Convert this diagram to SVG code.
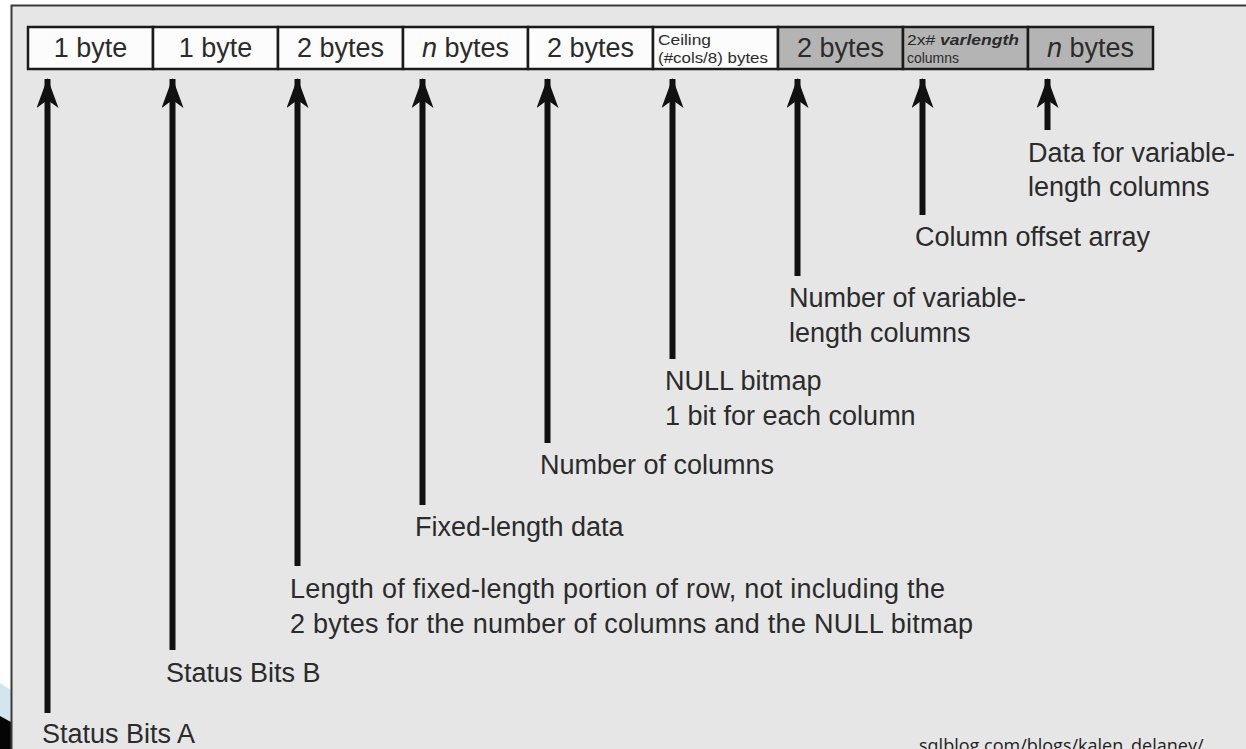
<svg xmlns="http://www.w3.org/2000/svg" width="1246" height="749" viewBox="0 0 1246 749">
<style>
.lbl{font-family:"Liberation Sans",Arial,sans-serif;font-size:27px;fill:#2b2b2b}
.cell{font-family:"Liberation Sans",Arial,sans-serif;font-size:27px;fill:#2b2b2b;text-anchor:middle}
.sm{font-family:"Liberation Sans",Arial,sans-serif;font-size:14.5px;fill:#2b2b2b}
.w{fill:#fcfcfc;stroke:#1a1a1a;stroke-width:2.5}
.g{fill:#b4b4b4;stroke:#1a1a1a;stroke-width:2.5}
.ln{stroke:#111;stroke-width:6;fill:none}
.wm{font-family:"Open Sans","Noto Sans",sans-serif;font-size:18px;fill:#222}
</style>
<defs>
<marker id="ah" viewBox="0 0 30 22" refX="29" refY="11" markerWidth="30" markerHeight="22" markerUnits="userSpaceOnUse" orient="auto">
<path d="M30,11 L0,0 L8,11 L0,22 Z" fill="#111"/>
</marker>
</defs>
<rect x="0" y="0" width="1246" height="749" fill="#ffffff"/>
<rect x="11" y="5" width="1235" height="744" fill="#e6e6e6"/>
<polygon points="0,683 11,690 11,722 0,716" fill="#d3e6ef"/>
<polygon points="0,716 11,722 11,749 0,749" fill="#050505"/>
<path d="M11.5,749 V5.5 H1246" fill="none" stroke="#3a3a3a" stroke-width="2"/>

<g id="row">
<g id="cell1"><rect class="w" x="28" y="27" width="125" height="42"/><text class="cell" x="90.5" y="57">1 byte</text></g>
<g id="cell2"><rect class="w" x="153" y="27" width="125" height="42"/><text class="cell" x="215.5" y="57">1 byte</text></g>
<g id="cell3"><rect class="w" x="278" y="27" width="125" height="42"/><text class="cell" x="340.5" y="57">2 bytes</text></g>
<g id="cell4"><rect class="w" x="403" y="27" width="125" height="42"/><text class="cell" x="465.5" y="57"><tspan font-style="italic">n</tspan> bytes</text></g>
<g id="cell5"><rect class="w" x="528" y="27" width="125" height="42"/><text class="cell" x="590.5" y="57">2 bytes</text></g>
<g id="cell6"><rect class="w" x="653" y="27" width="125" height="42"/><text class="sm" x="658" y="45" textLength="53" lengthAdjust="spacingAndGlyphs">Ceiling</text><text class="sm" x="658" y="63" textLength="110" lengthAdjust="spacingAndGlyphs">(#cols/8) bytes</text></g>
<g id="cell7"><rect class="g" x="778" y="27" width="125" height="42"/><text class="cell" x="840.5" y="57">2 bytes</text></g>
<g id="cell8"><rect class="g" x="903" y="27" width="125" height="42"/><text class="sm" x="907" y="45" textLength="112" lengthAdjust="spacingAndGlyphs">2x# <tspan font-style="italic" font-weight="bold">varlength</tspan></text><text class="sm" x="907" y="63" textLength="52" lengthAdjust="spacingAndGlyphs">columns</text></g>
<g id="cell9"><rect class="g" x="1028" y="27" width="125" height="42"/><text class="cell" x="1090.5" y="57"><tspan font-style="italic">n</tspan> bytes</text></g>
</g>

<g id="connectors">
<line class="ln" x1="47.5" y1="713" x2="47.5" y2="79" marker-end="url(#ah)"/>
<line class="ln" x1="172.5" y1="650" x2="172.5" y2="79" marker-end="url(#ah)"/>
<line class="ln" x1="297.5" y1="566" x2="297.5" y2="79" marker-end="url(#ah)"/>
<line class="ln" x1="422.5" y1="505" x2="422.5" y2="79" marker-end="url(#ah)"/>
<line class="ln" x1="547.5" y1="443" x2="547.5" y2="79" marker-end="url(#ah)"/>
<line class="ln" x1="672.5" y1="359" x2="672.5" y2="79" marker-end="url(#ah)"/>
<line class="ln" x1="797.5" y1="276" x2="797.5" y2="79" marker-end="url(#ah)"/>
<line class="ln" x1="922.5" y1="215" x2="922.5" y2="79" marker-end="url(#ah)"/>
<line class="ln" x1="1047.5" y1="130" x2="1047.5" y2="79" marker-end="url(#ah)"/>
</g>

<g id="label-data"><text class="lbl" x="1028" y="162">Data for variable-</text><text class="lbl" x="1028" y="196">length columns</text></g>
<g id="label-offset"><text class="lbl" x="915" y="246">Column offset array</text></g>
<g id="label-numvar"><text class="lbl" x="789" y="307">Number of variable-</text><text class="lbl" x="789" y="342">length columns</text></g>
<g id="label-null"><text class="lbl" x="665" y="390">NULL bitmap</text><text class="lbl" x="665" y="425">1 bit for each column</text></g>
<g id="label-numcols"><text class="lbl" x="540" y="474">Number of columns</text></g>
<g id="label-fixed"><text class="lbl" x="415" y="536">Fixed-length data</text></g>
<g id="label-length"><text class="lbl" x="290" y="598" textLength="655">Length of fixed-length portion of row, not including the</text><text class="lbl" x="290" y="633" textLength="683">2 bytes for the number of columns and the NULL bitmap</text></g>
<g id="label-b"><text class="lbl" x="166" y="682">Status Bits B</text></g>
<g id="label-a"><text class="lbl" x="42" y="743">Status Bits A</text></g>
<text class="wm" x="919" y="752">sqlblog.com/blogs/kalen_delaney/</text>
</svg>
